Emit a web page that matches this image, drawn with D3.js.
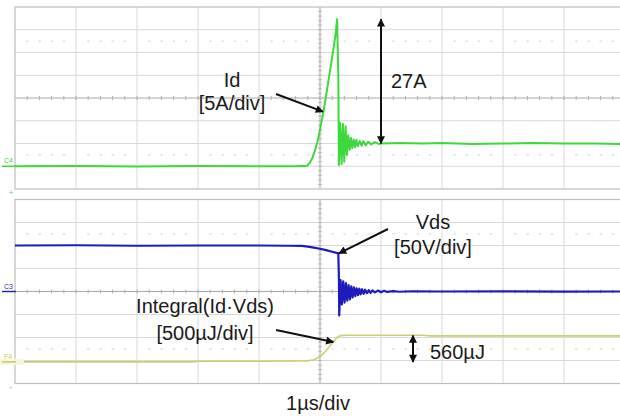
<!DOCTYPE html>
<html><head><meta charset="utf-8">
<script src="https://cdn.jsdelivr.net/npm/d3@7"></script>
<style>body{margin:0;background:#fff}svg{display:block}</style>
</head><body>
<svg id="c" width="620" height="416"></svg>
<script>
// ---- data (time in µs relative to screen centre) ----
const idTime = [-5,-4,-3,-2,-1,-0.4,-0.21,-0.16,-0.12,-0.08,-0.04,0,0.05,0.1,0.15,0.2,0.25,0.28,0.3,0.31,0.332,0.354,0.376,0.398,0.42,0.442,0.464,0.486,0.508,0.53,0.552,0.574,0.596,0.62,0.65,0.68,0.71,0.75,0.79,0.84,0.9,0.96,1.0,1.3,1.7,2.0,2.5,3.0,3.5,4.0,4.5,5.0];
const idAmps = [0,0.05,-0.05,0.05,0,0,0.1,0.9,2.0,3.6,5.5,8.0,11.5,15.5,19.8,24,28.5,32.3,20,0.3,9.5,0.5,9.3,1.0,8.8,2.5,6.8,3.6,6.2,4.0,5.9,4.2,5.8,4.4,5.6,4.5,5.5,4.6,5.4,4.8,5.3,4.9,5.0,5.1,5.0,5.1,4.9,5.0,5.1,5.0,5.0,4.9];

const vdsTime = [-5,-4,-3,-2,-1,-0.5,-0.3,-0.2,-0.1,0,0.1,0.2,0.3,0.31,0.315,0.337,0.359,0.381,0.403,0.425,0.447,0.469,0.491,0.513,0.535,0.557,0.579,0.601,0.623,0.645,0.667,0.69,0.715,0.74,0.77,0.8,0.83,0.86,0.9,0.95,1.0,1.05,1.1,1.2,1.3,1.5,2,3,4,5];
const vdsVolts = [100,100.5,99.5,100,100,99.5,99,97.5,95.5,93,90,86.5,83,30,-52,25,-28,22,-24,18,-20,14,-17,11,-13,9,-10,7,-8,6,-6,5,-5,4,-3.5,3,-3,2.5,-2,2,-1.5,1.5,-1,1,-0.5,0.5,0,0.3,-0.2,0];

const intTime = [-5,-3,-2.1,-2.0,-1,-0.4,-0.2,-0.1,0,0.1,0.2,0.28,0.34,0.45,1,1.7,1.8,3,5];
const intMicroJ = [0,0,0,15,15,18,22,45,110,240,410,530,570,580,580,580,565,565,565];

const timeDomain = [-5, 5];          // 10 div, 1 µs/div
const idDomain = [-5, 35];           // 5 A/div, 8 div
const vdsDomain = [-200, 200];       // 50 V/div, 8 div
const intDomain = [-470, 3530];      // 500 µJ/div, 8 div

// ---- layout ----
const svg = d3.select("#c");
const X0 = 15, X1 = 625;
const topP = {y0: 7, y1: 189};
const botP = {y0: 199.5, y1: 383.5};
const xS = d3.scaleLinear().domain(timeDomain).range([X0, X1]);
const yId = d3.scaleLinear().domain(idDomain).range([topP.y1, topP.y0]);
const yV = d3.scaleLinear().domain(vdsDomain).range([botP.y1, botP.y0]);
const yE = d3.scaleLinear().domain(intDomain).range([botP.y1, botP.y0]);

function grid(p) {
  const g = svg.append("g");
  const dy = (p.y1 - p.y0) / 8, dx = (X1 - X0) / 10;
  const cy = (p.y0 + p.y1) / 2;
  for (let j = 1; j < 8; j++) {
    if (j === 4) continue;
    const y = p.y0 + j * dy;
    g.append("line").attr("x1", X0).attr("x2", X1).attr("y1", y).attr("y2", y)
      .attr("stroke", "#d8d8d8").attr("stroke-width", 1);
  }
  for (let i = 1; i < 10; i++) {
    if (i === 5) continue;
    const x = X0 + i * dx;
    g.append("line").attr("x1", x).attr("x2", x).attr("y1", p.y0).attr("y2", p.y1)
      .attr("stroke", "#d8d8d8").attr("stroke-width", 1);
  }
  [cy - 2.5 * dy, cy + 2.5 * dy].forEach(y => {
    for (let k = 1; k < 50; k++) {
      if (k % 5 === 0) continue;
      const x = X0 + k * dx / 5;
      g.append("line").attr("x1", x - 1).attr("x2", x + 1.5).attr("y1", y).attr("y2", y)
        .attr("stroke", "#cfcfcf").attr("stroke-width", 1);
    }
  });
  g.append("line").attr("x1", X0).attr("x2", X1).attr("y1", cy).attr("y2", cy)
    .attr("stroke", "#a8a8a8").attr("stroke-width", 1);
  for (let k = 1; k < 50; k++) {
    const x = X0 + k * dx / 5;
    g.append("line").attr("x1", x).attr("x2", x).attr("y1", cy - 2).attr("y2", cy + 2)
      .attr("stroke", "#b0b0b0").attr("stroke-width", 1);
  }
  const cx = X0 + 5 * dx;
  g.append("line").attr("x1", cx).attr("x2", cx).attr("y1", p.y0).attr("y2", p.y1)
    .attr("stroke", "#a0a0a0").attr("stroke-width", 1);
  for (let k = 1; k < 40; k++) {
    const y = p.y0 + k * dy / 5;
    g.append("line").attr("x1", cx - 2).attr("x2", cx + 2).attr("y1", y).attr("y2", y)
      .attr("stroke", "#b8b8b8").attr("stroke-width", 1);
  }
  g.append("rect").attr("x", X0).attr("y", p.y0).attr("width", X1 - X0).attr("height", p.y1 - p.y0)
    .attr("fill", "none").attr("stroke", "#bdbdbd").attr("stroke-width", 1.2);
}
grid(topP); grid(botP);

// ---- traces ----
const lineOf = (xs, ys, sy) => d3.line().x((d, i) => xS(xs[i])).y((d, i) => sy(ys[i]))(xs);
svg.append("path").attr("d", lineOf(intTime, intMicroJ, yE)).attr("fill", "none")
  .attr("stroke", "#cdcd72").attr("stroke-width", 1.6);
svg.append("path").attr("d", lineOf(vdsTime, vdsVolts, yV)).attr("fill", "none")
  .attr("stroke", "#1c1cbc").attr("stroke-width", 2.2).attr("stroke-linejoin", "round");
svg.append("path").attr("d", lineOf(idTime, idAmps, yId)).attr("fill", "none")
  .attr("stroke", "#3cd83c").attr("stroke-width", 2.0).attr("stroke-linejoin", "round");

// ---- channel markers ----
function chan(label, y, color, bg) {
  if (bg) svg.append("rect").attr("x", 0).attr("y", y - 3).attr("width", 24).attr("height", 6).attr("fill", bg);
  svg.append("line").attr("x1", 2).attr("x2", 16).attr("y1", y).attr("y2", y).attr("stroke", color).attr("stroke-width", 1.5);
  svg.append("text").attr("x", 4).attr("y", y - 3).text(label)
    .attr("font-family", "Liberation Sans, Arial, sans-serif").attr("font-size", 7).attr("fill", color);
}
chan("C4", yId(0), "#3cd83c");
chan("C3", yV(0), "#2a2aa0");
chan("F4", yE(0), "#c8c86a", "#f7f7dc");
svg.append("text").attr("x", 9).attr("y", 195).text("+").attr("font-size", 7).attr("fill", "#3cd83c").attr("font-family", "Liberation Sans, Arial, sans-serif");
svg.append("text").attr("x", 9).attr("y", 389).text("+").attr("font-size", 6).attr("fill", "#bbb").attr("font-family", "Liberation Sans, Arial, sans-serif");

// ---- annotations ----
svg.append("defs").append("marker").attr("id", "ah").attr("viewBox", "0 0 10 10")
  .attr("refX", 9).attr("refY", 5).attr("markerWidth", 10).attr("markerHeight", 8)
  .attr("markerUnits", "userSpaceOnUse").attr("orient", "auto-start-reverse")
  .append("path").attr("d", "M0,0 L10,5 L0,10 Z").attr("fill", "#111");

function txt(s, x, y, anchor) {
  svg.append("text").attr("x", x).attr("y", y).text(s).attr("text-anchor", anchor || "middle")
    .attr("font-family", "Liberation Sans, Arial, sans-serif").attr("font-size", 20).attr("fill", "#1a1a1a");
}
function arrow(x1, y1, x2, y2, both) {
  const l = svg.append("line").attr("x1", x1).attr("y1", y1).attr("x2", x2).attr("y2", y2)
    .attr("stroke", "#111").attr("stroke-width", 2).attr("marker-end", "url(#ah)");
  if (both) l.attr("marker-start", "url(#ah)");
}
txt("Id", 232, 87);
txt("[5A/div]", 232, 110);
arrow(276, 94, xS(0.05), yId(12));
arrow(xS(1.0), yId(32.3), xS(1.0), yId(5.0), true);
txt("27A", 391, 88, "start");

txt("Vds", 433, 229);
txt("[50V/div]", 433, 254);
arrow(388, 229, xS(0.31), yV(83));

txt("Integral(Id·Vds)", 205, 313);
txt("[500µJ/div]", 205, 340);
arrow(276, 330, xS(0.22), yE(430));
arrow(413, yE(575), 413, yE(0), true);
txt("560µJ", 430, 359, "start");

txt("1µs/div", 318, 410);
</script>
</body></html>
